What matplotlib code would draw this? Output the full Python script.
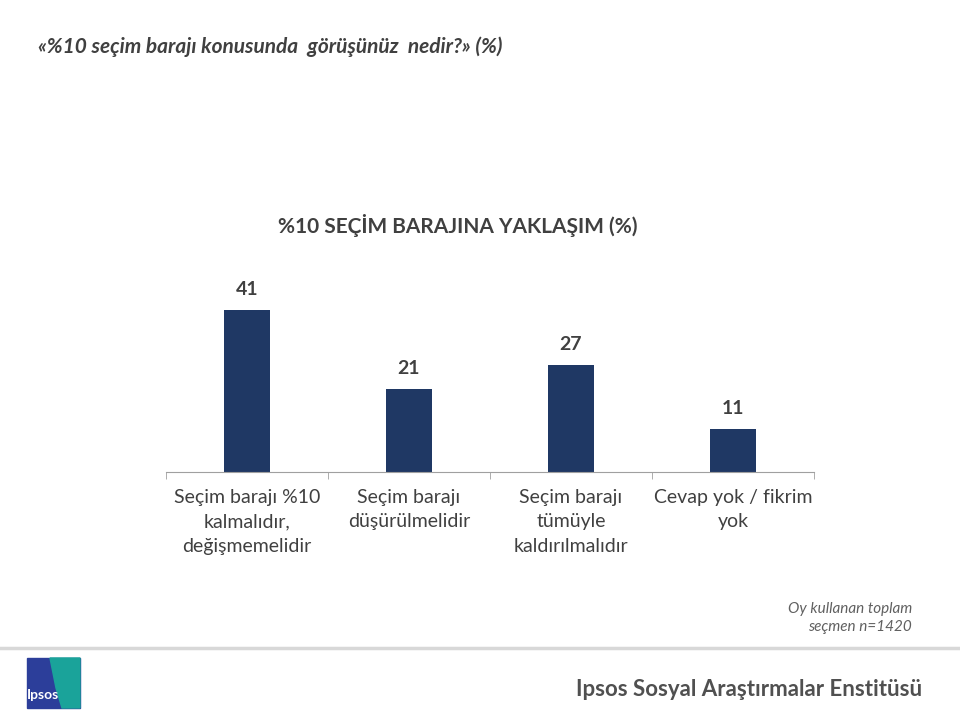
import matplotlib.pyplot as plt
from matplotlib.patches import Rectangle, Polygon
import numpy as np

plt.rcParams['font.family'] = ['Lato', 'DejaVu Sans']

categories = ['Seçim barajı %10\nkalmalıdır,\ndeğişmemelidir',
              'Seçim barajı\ndüşürülmelidir',
              'Seçim barajı\ntümüyle\nkaldırılmalıdır',
              'Cevap yok / fikrim\nyok']
values = [41, 21, 27, 11]

header = '«%10 seçim barajı konusunda  görüşünüz  nedir?» (%)'
title = '%10 SEÇİM BARAJINA YAKLAŞIM (%)'
note = 'Oy kullanan toplam\nseçmen n=1420'
footer = 'Ipsos Sosyal Araştırmalar Enstitüsü'

bar_color = '#1F3864'
text_color = '#404040'

fig = plt.figure(figsize=(9.6, 7.2), dpi=100)
ax = fig.add_axes([166/960, 1 - 472/720, 648/960, 197.5/720])

x = np.arange(len(values))
ax.bar(x, values, width=0.29, color=bar_color)
for xi, v in zip(x, values):
    ax.text(xi, v + 3, str(v), ha='center', va='bottom', fontsize=14,
            fontweight='bold', color=text_color)

ax.set_xlim(-0.5, len(values) - 0.5)
ax.set_ylim(0, 50)
ax.set_yticks([])
for s in ['top', 'right', 'left']:
    ax.spines[s].set_visible(False)
ax.spines['bottom'].set_color('#A0A0A0')
ax.set_xticks(x)
ax.set_xticklabels(categories, fontsize=14, color=text_color, linespacing=1.55)
ax.tick_params(axis='x', which='major', length=0, pad=12)
ax.set_xticks(np.arange(len(values) + 1) - 0.5, minor=True)
ax.tick_params(axis='x', which='minor', length=5, color='#A0A0A0', direction='out')
ax.set_title(title, fontsize=15, fontweight='bold', color=text_color, pad=30,
             x=0.45)

fig.text(38/960, 1 - 47/720, header, fontsize=15, fontstyle='italic',
         fontweight='bold', color=text_color, va='center')
fig.text(912/960, 1 - 618/720, note, fontsize=11, fontstyle='italic',
         color='#606060', ha='right', va='center', linespacing=1.35)
fig.text(922/960, 1 - 690/720, footer, fontsize=16, fontweight='bold',
         color='#505050', ha='right', va='center')

# separator line above footer
fig.add_artist(plt.Line2D([0, 1], [1 - 648/720, 1 - 648/720], color='#D8D8D8',
                          lw=2.5, transform=fig.transFigure))

# logo
lx0, lx1, ly0, ly1 = 27/960, 80/960, 1 - 708/720, 1 - 658/720
fig.add_artist(Rectangle((lx0, ly0), lx1 - lx0, ly1 - ly0, color='#2C3E9A',
                         transform=fig.transFigure))
fig.add_artist(Polygon([(50/960, ly1), (lx1, ly1), (lx1, ly0), (62/960, ly0),
                        (56/960, 1 - 688/720)], closed=True, color='#1AA39A',
                       transform=fig.transFigure))
fig.text(43/960, 1 - 695/720, 'Ipsos', fontsize=10, fontweight='bold',
         color='white', ha='center', va='center')

fig.savefig('out.png', dpi=100, facecolor='white')
